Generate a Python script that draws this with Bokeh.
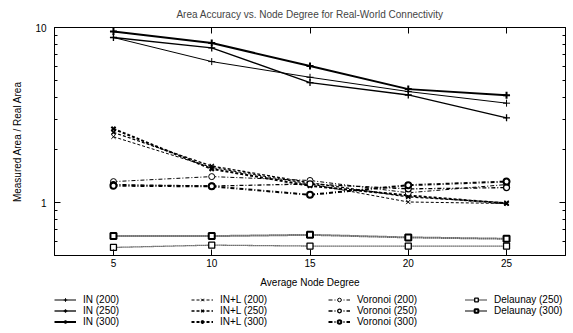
from bokeh.plotting import figure
from bokeh.layouts import column
from bokeh.models import (Legend, LegendItem, FixedTicker, LinearAxis, LogAxis, Range1d,
                          NumeralTickFormatter, CustomJSTickFormatter)
from bokeh.embed import file_html
from bokeh.resources import INLINE

# ---- data ----
degree = [5, 10, 15, 20, 25]

in_200 = [8.77, 6.39, 5.20, 4.31, 3.70]
in_250 = [8.77, 7.65, 4.85, 4.12, 3.05]
in_300 = [9.50, 8.15, 6.03, 4.45, 4.10]

inl_200 = [2.38, 1.59, 1.28, 1.01, 0.99]
inl_250 = [2.52, 1.62, 1.30, 1.08, 1.00]
inl_300 = [2.64, 1.56, 1.25, 1.10, 0.99]

vor_200 = [1.32, 1.41, 1.34, 1.14, 1.27]
vor_250 = [1.27, 1.245, 1.28, 1.20, 1.22]
vor_300 = [1.25, 1.24, 1.11, 1.26, 1.32]

del_250 = [0.556, 0.573, 0.566, 0.566, 0.566]
del_300 = [0.645, 0.645, 0.656, 0.634, 0.623]

x_ticks = [5, 10, 15, 20, 25]
y_ticks = [1, 10]
y_minor = [0.6, 0.7, 0.8, 0.9, 2, 3, 4, 5, 6, 7, 8, 9]

title = "Area Accuracy vs. Node Degree for Real-World Connectivity"
x_label = "Average Node Degree"
y_label = "Measured Area / Real Area"

FONT = "Liberation Sans"

p = figure(width=573, height=291, y_axis_type="log",
           x_range=Range1d(2, 28), y_range=Range1d(0.5, 10),
           output_backend="svg", toolbar_location=None,
           min_border_left=54, min_border_right=8, min_border_top=27,
           min_border_bottom=36)
p.background_fill_color = "white"
p.border_fill_color = "white"
p.outline_line_color = "black"
p.outline_line_width = 1
p.xgrid.visible = False
p.ygrid.visible = False

p.title.text = title
p.title.align = "center"
p.title.vertical_align = "top"
p.title.text_font = FONT
p.title.text_font_size = "10px"
p.title.text_font_style = "normal"
p.title.standoff = 12

def style_axis(ax, labels=True):
    ax.axis_line_color = "black"
    ax.axis_line_width = 1
    ax.major_tick_line_color = "black"
    ax.minor_tick_line_color = "black"
    ax.major_tick_in = 6
    ax.major_tick_out = 0
    ax.minor_tick_in = 3
    ax.minor_tick_out = 0
    ax.major_label_text_font = FONT
    ax.major_label_text_font_size = "10px"
    ax.major_label_text_color = "black"
    ax.axis_label_text_font = FONT
    ax.axis_label_text_font_size = "10px"
    ax.axis_label_text_font_style = "normal"
    ax.axis_label_text_color = "black"
    if not labels:
        ax.major_label_standoff = 0
        ax.formatter = CustomJSTickFormatter(code="return ''")

p.xaxis.ticker = FixedTicker(ticks=x_ticks, minor_ticks=[])
p.yaxis.ticker = FixedTicker(ticks=y_ticks, minor_ticks=y_minor)
style_axis(p.xaxis[0])
style_axis(p.yaxis[0])
p.yaxis.formatter = NumeralTickFormatter(format="0")
p.xaxis.axis_label = x_label
p.yaxis.axis_label = y_label
p.xaxis.major_label_standoff = 3
p.xaxis.axis_label_standoff = 7
p.yaxis.major_label_standoff = 8
p.yaxis.axis_label_standoff = 9

top = LinearAxis(ticker=FixedTicker(ticks=x_ticks, minor_ticks=[]))
style_axis(top, labels=False)
top.major_label_standoff = 4
p.add_layout(top, "above")
right = LogAxis(ticker=FixedTicker(ticks=y_ticks, minor_ticks=y_minor))
style_axis(right, labels=False)
p.add_layout(right, "right")

series = [
    ("IN (200)", in_200, None, "cross", 1.0, 7),
    ("IN (250)", in_250, None, "cross", 1.3, 7),
    ("IN (300)", in_300, None, "cross", 2.0, 7),
    ("IN+L (200)", inl_200, "3 2", "x", 1.0, 6),
    ("IN+L (250)", inl_250, "3 2", "x", 1.3, 6),
    ("IN+L (300)", inl_300, "3 2", "x", 2.0, 6),
    ("Voronoi (200)", vor_200, "4 2 1 2", "circle", 1.0, 6),
    ("Voronoi (250)", vor_250, "4 2 1 2", "circle", 1.3, 6),
    ("Voronoi (300)", vor_300, "4 2 1 2", "circle", 2.0, 6),
    ("Delaunay (250)", del_250, "1 1", "square", 1.3, 6),
    ("Delaunay (300)", del_300, "1 1", "square", 2.0, 6),
]

# legend strip: its own canvas (same series, out of its visible range) so
# the legend is not clipped by the main plot frame
q = figure(width=573, height=42, x_range=Range1d(0, 1), y_range=Range1d(0, 1),
           x_axis_type=None, y_axis_type=None, output_backend="svg",
           toolbar_location=None, min_border_left=54, min_border_right=8,
           min_border_top=0, min_border_bottom=0)
q.outline_line_color = None
q.xgrid.visible = False
q.ygrid.visible = False
q.background_fill_color = "white"
q.border_fill_color = "white"

items = []
for label, ys, dash, marker, lw, size in series:
    kw = {}
    if dash:
        kw["line_dash"] = dash
    p.line(degree, ys, line_color="black", line_width=lw, **kw)
    p.scatter(degree, ys, marker=marker, size=size, line_color="black",
              line_width=lw, fill_color="white")
    lr = q.line(degree, ys, line_color="black", line_width=lw, **kw)
    sr = q.scatter(degree, ys, marker=marker, size=size, line_color="black",
                   line_width=lw, fill_color="white")
    items.append(LegendItem(label=label, renderers=[lr, sr]))

legend = Legend(items=items, orientation="vertical", nrows=3,
                location=(0, 6), glyph_width=22, glyph_height=9,
                label_height=9, label_width=108, label_standoff=7,
                spacing=0, padding=0, margin=0,
                label_text_font=FONT, label_text_font_size="10px",
                label_text_line_height=0.85,
                label_text_color="black",
                background_fill_alpha=0, border_line_alpha=0)
q.add_layout(legend, "center")

layout = column(p, q, spacing=0)
open("out.html", "w").write(file_html(layout, INLINE))
